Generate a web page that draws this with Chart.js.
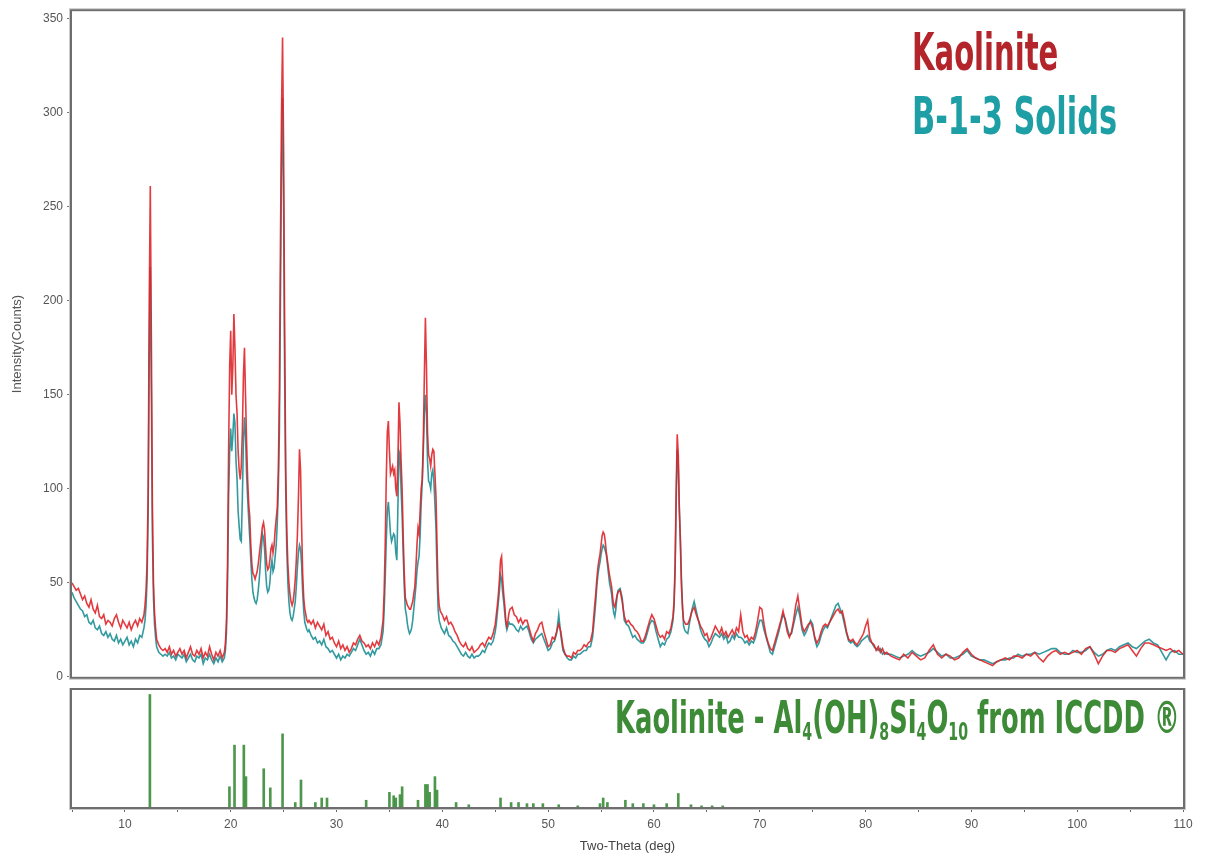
<!DOCTYPE html>
<html>
<head>
<meta charset="utf-8">
<script src="https://cdn.jsdelivr.net/npm/chart.js"></script>
<style>
  body { margin: 0; background: #fff; }
  #page { position: relative; width: 1206px; height: 858px; overflow: hidden; }
  #scanBox { position: absolute; left: 0; top: 0; width: 1206px; height: 688px; }
  #refBox { position: absolute; left: 0; top: 688px; width: 1206px; height: 170px; }
  .tag {
    position: absolute; white-space: nowrap; line-height: 1; transform-origin: 0 0;
    font-family: "Liberation Sans Narrow", "DejaVu Sans Condensed", sans-serif; font-weight: bold;
  }
  .tag .sub { font-size: 0.55em; position: relative; top: 0.3em; }
</style>
</head>
<body>
<div id="page">
  <div id="scanBox"><canvas id="scanChart"></canvas></div>
  <div id="refBox"><canvas id="refChart"></canvas></div>
  <div class="tag" id="tagKao" style="left:912px; top:26px; font-size:52px; color:#b3252b;" data-w="146"></div>
  <div class="tag" id="tagSol" style="left:912px; top:90px; font-size:52px; color:#1e9ea5;" data-w="205"></div>
  <div class="tag" id="tagRef" style="left:615px; top:696px; font-size:44px; color:#3d8b37;" data-w="565">Kaolinite - Al<span class="sub">4</span>(OH)<span class="sub">8</span>Si<span class="sub">4</span>O<span class="sub">10</span> from ICCDD ®</div>
</div>
<script>

    // two-theta positions (deg), finer steps across the peaks
    const twoTheta = [
        5.0,5.2,5.4,5.6,5.8, 6.0,6.2,6.4,6.6,6.8, 7.0,7.2,7.4,7.6,7.8, 8.0,8.2,8.4,8.6,8.8, 9.0,9.2,9.4,9.6,9.8, 10.0,10.2,10.4,10.6,10.8, 11.0,11.2,11.4,11.6,11.8,
        11.9,12.0,12.1,12.2,12.3, 12.4,12.5,12.6,12.7,12.8, 12.9,13.0,13.2,13.4,13.6,
        13.8,14.0,14.2,14.4,14.6, 14.8,15.0,15.2,15.4,15.6, 15.8,16.0,16.2,16.4,16.6, 16.8,17.0,17.2,17.4,17.6, 17.8,18.0,18.2,18.4,18.6, 18.8,19.0,19.2,19.4,
        19.5,19.6,19.7,19.8,19.9, 20.0,20.1,20.2,20.3,20.4, 20.5,20.6,20.7,20.8,20.9, 21.0,21.1,21.2,21.3,21.4, 21.5,21.6,21.7,21.8,21.9, 22.0,22.1,22.2,22.3,22.4, 22.5,22.6,
        22.7,22.8,22.9,23.0,23.1, 23.2,23.3,23.4,23.5,23.6, 23.7,23.8,23.9,24.0,24.1, 24.2,24.3,24.4,24.5,24.6, 24.7,24.8,24.9,25.0,25.1, 25.2,25.3,25.4,25.5,25.6, 25.7,25.8,25.9,26.0,
        26.1,26.2,26.3,26.4,26.5, 26.6,26.7,26.8,26.9,27.0, 27.1,27.2,27.3,27.4,
        27.6,27.8,28.0,28.2,28.4, 28.6,28.8,29.0,29.2,29.4, 29.6,29.8,30.0,30.2,30.4, 30.6,30.8,31.0,31.2,31.4, 31.6,31.8,32.0,32.2,32.4, 32.6,32.8,33.0,33.2,33.4, 33.6,33.8,34.0,34.2,34.4,
        34.5,34.6,34.7,34.8,34.9, 35.0,35.1,35.2,35.3,35.4, 35.5,35.6,35.7,35.8,35.9, 36.0,36.1,36.2,36.3,36.4, 36.5,36.6,36.7,36.8,36.9, 37.0,37.1,37.2,37.3,37.4,
        37.5,37.6,37.7,37.8,37.9, 38.0,38.1,38.2,38.3,38.4, 38.5,38.6,38.7,38.8,38.9, 39.0,39.1,39.2,39.3,39.4, 39.5,39.6,39.7,39.8,39.9, 40.0,
        40.2,40.4,40.6,40.8,41.0, 41.2,41.4,41.6,41.8,42.0, 42.2,42.4,42.6,42.8,43.0, 43.2,43.4,43.6,43.8,44.0, 44.2,44.4,44.6,44.8,
        45.0,45.1,45.2,45.3,45.4, 45.5,45.6,45.7,45.8,45.9, 46.0,46.1,46.2,46.3,46.4,
        46.6,46.8,47.0,47.2,47.4, 47.6,47.8,48.0,48.2,48.4, 48.6,48.8,49.0,49.2,49.4, 49.6,49.8,50.0,50.2,50.4, 50.6,50.8,51.0,51.2,51.4, 51.6,51.8,52.0,52.2,52.4, 52.6,52.8,53.0,53.2,53.4, 53.6,53.8,54.0,54.2,
        54.4,54.5,54.6,54.7,54.8, 54.9,55.0,55.1,55.2,55.3, 55.4,55.5,55.6,55.7,55.8, 55.9,56.0,56.1,56.2,56.3, 56.4,56.5,56.6,
        56.8,57.0,57.2,57.4,57.6, 57.8,58.0,58.2,58.4,58.6, 58.8,59.0,59.2,59.4,59.6, 59.8,60.0,60.2,60.4,60.6, 60.8,61.0,61.2,61.4,61.6, 61.8,
        61.9,62.0,62.1,62.2,62.3, 62.4,62.5,62.6,62.7,62.8, 62.9,63.0,
        63.2,63.4,63.6,63.8,64.0, 64.2,64.4,64.6,64.8,65.0, 65.2,65.4,65.6,65.8,66.0, 66.2,66.4,66.6,66.8,67.0, 67.2,67.4,67.6,67.8,68.0, 68.2,68.4,68.6,68.8,69.0, 69.2,69.4,69.6,69.8,70.0,
        70.2,70.4,70.6,70.8,71.0, 71.2,71.4,71.6,71.8,72.0, 72.2,72.4,72.6,72.8,73.0, 73.2,73.4,73.6,73.8,74.0, 74.2,74.4,74.6,74.8,75.0, 75.2,75.4,75.6,75.8,76.0,
        76.2,76.4,76.6,76.8,77.0, 77.2,77.4,77.6,77.8,78.0, 78.2,78.4,78.6,78.8,79.0, 79.2,79.4,79.6,79.8,80.0, 80.2,80.4,80.6,80.8,81.0, 81.2,81.4,81.6,81.8,82.0,
        82.4,82.8,83.2,83.6,84.0, 84.4,84.8,85.2,85.6,86.0, 86.4,86.8,87.2,87.6,88.0, 88.4,88.8,89.2,89.6,90.0, 90.4,90.8,91.2,91.6,92.0,
        92.4,92.8,93.2,93.6,94.0, 94.4,94.8,95.2,95.6,96.0, 96.4,96.8,97.2,97.6,98.0, 98.4,98.8,99.2,99.6,100.0,
        100.4,100.8,101.2,101.6,102.0, 102.4,102.8,103.2,103.6,104.0, 104.4,104.8,105.2,105.6,106.0, 106.4,106.8,107.2,107.6,108.0, 108.4,108.8,109.2,109.6,110.0
    ];

    // Kaolinite scan (counts)
    const kaolinite = [
        50,48,46,47,44, 41,43,39,37,41, 36,34,38,32,31, 33,28,30,29,27, 31,33,29,26,30, 28,26,29,25,28, 30,27,31,29,33,
        38,46,62,100,200, 261,180,90,50,34, 26,20,17,15,14,
        15,13,16,12,14, 11,13,15,12,14, 10,13,16,12,11, 14,12,15,10,13, 11,16,12,9,13, 11,14,10,13,
        18,30,60,120,165, 184,150,165,193,175, 150,140,120,110,105, 112,130,160,175,150, 125,105,92,85,70, 60,55,54,52,54, 56,60,
        65,70,75,80,82, 78,68,60,57,58, 62,68,70,66,70, 78,84,90,110,150, 230,300,340,280,180, 110,78,60,50,44, 40,38,40,45,
        52,62,75,95,121, 110,80,55,42,36, 33,30,29,30,
        28,30,26,29,27, 25,28,22,24,20, 21,18,16,19,15, 17,14,16,13,15, 18,17,20,22,19, 18,16,17,15,18, 16,19,17,21,30,
        45,70,105,130,136, 120,108,110,112,108, 110,100,96,115,146, 135,115,100,75,55, 42,40,38,37,36, 36,38,40,44,48,
        58,70,79,76,88, 100,105,125,160,191, 165,130,118,116,112, 118,121,120,108,96, 70,46,38,35,34, 33,
        30,32,28,29,27, 24,22,19,17,16, 18,15,14,16,13, 14,15,17,18,16, 19,21,20,23,
        28,33,38,44,52, 62,64,52,44,38, 30,27,30,34,36,
        37,33,32,29,31, 28,30,30,26,22, 19,23,25,28,29, 24,20,16,17,21, 20,24,28,24,16, 12,11,11,10,13, 12,14,14,15,17, 16,18,19,24,
        38,44,52,58,62, 65,70,75,77,76, 72,66,62,58,54, 51,48,42,38,37, 40,43,45,
        46,40,32,29,30, 28,27,25,24,22, 19,19,22,26,30, 33,31,27,23,21, 22,20,24,23,26, 32,
        40,60,100,129,118, 90,70,48,36,30, 29,28,
        28,31,35,37,33, 30,27,25,22,23, 19,21,24,27,25, 23,26,22,24,21, 23,25,22,26,24, 33,24,21,22,19, 21,20,24,30,37,
        36,28,22,18,15, 14,18,22,26,30, 35,30,24,21,24, 30,38,43,35,27, 24,26,28,29,26, 21,18,20,24,27,
        28,27,29,31,33, 35,36,34,35,30, 24,20,19,20,18, 17,19,21,23,27, 30,21,18,17,14, 16,13,15,12,13,
        11,10,9,12,10, 13,11,9,10,14, 17,12,10,12,11, 9,10,13,15,12, 10,9,8,7,6,
        8,9,10,9,11, 11,10,12,11,13, 10,8,11,13,14, 12,13,12,13,14,
        12,15,16,12,7, 11,14,14,13,15, 16,17,14,11,15, 18,18,17,16,15, 14,15,13,14,12
    ];

    // B-1-3 Solids scan (counts)
    const solids = [
        45,42,40,38,36, 35,32,33,29,28, 30,26,25,27,23, 22,24,21,23,20, 19,22,18,20,17, 19,21,17,19,16, 20,18,22,21,26,
        30,38,52,90,170, 218,150,75,42,28, 21,16,13,12,11,
        12,11,13,10,11, 9,12,11,10,12, 8,10,12,9,8, 11,10,12,7,10, 9,12,9,7,10, 8,11,8,10,
        14,24,50,95,120, 132,120,128,140,135, 115,105,88,80,73, 72,95,125,138,128, 108,95,84,74,62, 52,45,42,40,39, 41,46,
        52,60,68,76,74, 68,56,48,45,46, 50,58,62,56,58, 64,70,82,100,130, 200,270,308,250,160, 98,68,50,40,34, 31,30,32,36,
        40,48,58,66,70, 68,60,45,35,29, 27,25,24,25,
        22,20,21,18,19, 17,20,16,15,13, 14,12,10,12,9, 11,10,12,11,13, 15,14,17,20,17, 14,12,13,11,14, 12,15,15,17,24,
        35,52,72,88,93, 85,76,72,74,76, 75,66,62,90,120, 118,100,86,66,48, 36,33,28,25,23, 24,26,30,36,42,
        48,56,61,64,75, 92,103,120,140,150, 140,115,104,103,100, 108,110,104,92,79, 55,36,30,28,26, 25,
        23,26,22,21,19, 18,16,14,12,11, 13,11,10,12,10, 11,11,12,14,13, 16,18,17,19,
        24,28,34,40,46, 54,52,45,40,34, 28,25,27,29,28,
        28,27,25,24,27, 25,26,27,24,20, 18,20,21,22,23, 20,17,14,15,18, 19,23,33,22,14, 12,10,9,9,11, 10,12,12,13,14, 14,16,16,21,
        33,40,48,54,58, 61,65,68,70,69, 67,65,60,55,50, 47,44,38,34,32, 36,42,46,
        47,42,30,28,27, 24,21,22,20,19, 18,18,20,24,28, 30,29,24,20,16, 18,17,20,21,24, 30,
        38,56,92,121,112, 88,74,52,38,27, 25,24,
        23,30,36,40,35, 30,25,22,20,19, 16,18,21,23,22, 21,23,20,22,18, 19,22,20,23,21, 21,20,18,19,17, 19,18,21,26,30,
        30,25,21,17,13, 12,16,20,24,29, 33,31,26,22,23, 28,33,37,32,25, 22,24,27,30,28, 20,16,18,22,25,
        27,26,29,32,35, 38,39,36,33,28, 23,19,18,19,17, 16,17,19,20,21, 22,19,18,16,15, 14,15,12,13,12,
        12,11,10,11,12, 14,12,11,12,13, 15,13,11,12,10, 10,11,12,14,11, 10,9,9,8,7,
        8,9,9,10,10, 12,11,12,12,13, 12,13,14,15,15, 13,12,12,14,13,
        13,14,16,13,11, 12,14,15,14,16, 17,18,16,15,17, 19,20,18,17,13, 9,13,14,12,12
    ];

    // reference pattern lines: position (deg) and relative intensity
    const refAngle = [
        12.36, 19.88, 20.36, 21.24, 21.44, 23.12, 23.74, 24.9, 26.1, 26.64,
        28.0, 28.6, 29.1, 32.8, 35.0, 35.4, 35.6, 36.0, 36.2, 37.7,
        38.4, 38.6, 38.8, 39.3, 39.5, 41.3, 42.5, 45.5, 46.5, 47.2,
        48.0, 48.6, 49.5, 51.0, 52.8, 54.9, 55.2, 55.6, 57.3, 58.0,
        59.0, 60.0, 61.2, 62.3, 63.5, 64.5, 65.5, 66.5
    ];
    const refIntensity = [
        100, 18, 55, 55, 27, 34, 17, 65, 4, 24,
        4, 8, 8, 6, 13, 10, 8, 11, 18, 6,
        20, 20, 13, 27, 15, 4, 2, 8, 4, 4,
        3, 3, 3, 2, 1, 3, 8, 4, 6, 3,
        3, 2, 3, 12, 2, 1, 1, 1
    ];

    const yTicks = [0, 50, 100, 150, 200, 250, 300, 350];

    function toPoints(xs, ys) {
        return xs.map((x, i) => ({ x: x, y: ys[i] }));
    }

    // grey double frame round each panel
    const panelFrame = {
        id: 'panelFrame',
        afterDraw(chart) {
            const { ctx, chartArea: { left, top, right, bottom } } = chart;
            ctx.save();
            ctx.strokeStyle = '#c9c9c9';
            ctx.lineWidth = 1;
            ctx.strokeRect(left - 2.5, top - 2.5, right - left + 5, bottom - top + 5);
            ctx.strokeStyle = '#6e6e6e';
            ctx.lineWidth = 2;
            ctx.strokeRect(left - 1, top - 1, right - left + 2, bottom - top + 2);
            ctx.restore();
        }
    };

    const tickFont = { family: 'Liberation Sans', size: 12 };

    new Chart(document.getElementById('scanChart'), {
        type: 'line',
        data: {
            datasets: [{
                label: 'Kaolinite',
                data: toPoints(twoTheta, kaolinite),
                borderColor: 'rgba(222,32,36,0.88)',
                borderWidth: 1.6,
                pointRadius: 0,
                tension: 0
            }, {
                label: 'B-1-3 Solids',
                data: toPoints(twoTheta, solids),
                borderColor: 'rgba(22,140,146,0.88)',
                borderWidth: 1.6,
                pointRadius: 0,
                tension: 0
            }]
        },
        options: {
            responsive: true,
            maintainAspectRatio: false,
            animation: false,
            layout: { padding: { top: 8, right: 23, left: 0, bottom: 0 } },
            plugins: { legend: { display: false }, tooltip: { enabled: false } },
            scales: {
                x: {
                    type: 'linear', min: 5, max: 110,
                    ticks: { display: false },
                    grid: { display: false },
                    border: { display: false },
                    afterFit(scale) { scale.height = 4; }
                },
                y: {
                    min: 0, max: 354,
                    afterBuildTicks(scale) {
                        scale.ticks = yTicks.map(v => ({ value: v }));
                    },
                    ticks: { color: '#555', font: tickFont, padding: 4 },
                    grid: { drawOnChartArea: false, tickLength: 5, color: '#777' },
                    border: { display: false },
                    title: {
                        display: true, text: 'Intensity(Counts)', color: '#555',
                        font: { family: 'Liberation Sans', size: 13 },
                        padding: { top: 10, bottom: 0 }
                    },
                    afterFit(scale) { scale.width = 72; }
                }
            }
        },
        plugins: [panelFrame]
    });

    new Chart(document.getElementById('refChart'), {
        type: 'bar',
        data: {
            datasets: [{
                label: 'Kaolinite reference',
                data: toPoints(refAngle, refIntensity),
                backgroundColor: 'rgba(58,140,58,0.9)',
                barThickness: 2,
                grouped: false
            }]
        },
        options: {
            responsive: true,
            maintainAspectRatio: false,
            animation: false,
            layout: { padding: { top: 2, right: 23, left: 0, bottom: 0 } },
            plugins: { legend: { display: false }, tooltip: { enabled: false } },
            scales: {
                x: {
                    type: 'linear', min: 5, max: 110, offset: false,
                    ticks: {
                        stepSize: 5, autoSkip: false, maxRotation: 0,
                        color: '#555', font: tickFont, padding: 5,
                        callback: v => (v % 10 === 0 ? v : '')
                    },
                    grid: { drawOnChartArea: false, offset: false, tickLength: 5, color: '#666' },
                    border: { display: false },
                    title: {
                        display: true, text: 'Two-Theta (deg)', color: '#444',
                        font: { family: 'Liberation Sans', size: 13 },
                        padding: { top: 0, bottom: 4 }
                    },
                    afterFit(scale) { scale.height = 51; }
                },
                y: {
                    min: 0, max: 104,
                    ticks: { display: false },
                    grid: { display: false },
                    border: { display: false },
                    afterFit(scale) { scale.width = 72; }
                }
            }
        },
        plugins: [panelFrame]
    });

    // series names beside the traces, squeezed to the condensed look
    document.getElementById('tagKao').textContent = 'Kaolinite';
    document.getElementById('tagSol').textContent = 'B-1-3 Solids';
    document.querySelectorAll('.tag').forEach(el => {
        const w = Number(el.dataset.w);
        el.style.transform = 'scaleX(' + (w / el.offsetWidth) + ')';
    });
</script>
</body>
</html>
